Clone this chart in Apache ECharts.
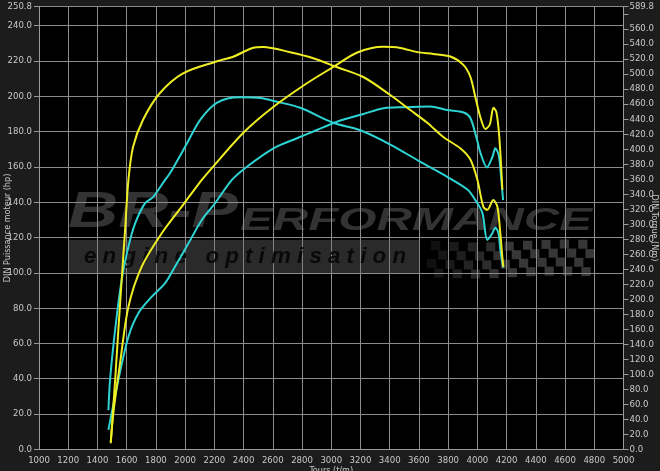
<!DOCTYPE html>
<html>
<head>
<meta charset="utf-8">
<style>
  html, body { margin: 0; padding: 0; background: #1c1c1c; }
  #chart { width: 660px; height: 471px; }
</style>
<script src="https://cdn.jsdelivr.net/npm/echarts@6.0.0/dist/echarts.min.js"></script>
</head>
<body>
<div id="chart"></div>
<script>
// ---- Data ----
// Tuned torque (yellow, right axis, Nm)
const tunedTorqueRpm = [1491,1521,1543,1566,1589,1612,1644,1712,1829,1986,2219,2329,2466,2534,2719,2877,3041,3219,3404,3541,3657,3767,3883,3952,4000,4041,4068,4109,4137,4157,4171,4178];
const tunedTorqueNm  = [8,92,159,226,292,359,403,439,475,501,517,523,535,536,529,521,509,496,472,452,435,416,401,386,359,323,319,332,323,288,256,243];
// Tuned power (yellow, left axis, hp)
const tunedPowerRpm = [1491,1509,1555,1612,1703,1840,1977,2114,2171,2397,2603,2836,3014,3178,3356,3473,3589,3699,3815,3904,3952,3986,4021,4055,4085,4110,4130,4150,4171];
const tunedPowerHp  = [4,20.6,48.9,80.8,103.5,122.4,137.5,152.6,158.2,179.2,193.9,207.5,216.6,224.8,228,227.4,225,224,222.5,217.8,211,199.6,188,181.5,184,193.5,191,177,147];
// Stock torque (cyan, right axis, Nm)
const stockTorqueRpm = [1475,1486,1521,1566,1612,1658,1726,1781,1863,1897,2014,2103,2219,2377,2514,2630,2788,3014,3199,3404,3610,3794,3932,3986,4034,4068,4100,4123,4144,4157,4176];
const stockTorqueNm  = [52,92,159,226,270,301,328,336,359,368,408,439,462,469,468,463,455,435,425,406,383,363,346,332,315,279,287,295,288,266,242];
// Stock power (cyan, left axis, hp)
const stockPowerRpm = [1475,1543,1612,1680,1772,1863,1931,2023,2114,2205,2320,2423,2605,2765,2902,3039,3221,3358,3495,3678,3792,3906,3952,3998,4021,4066,4103,4123,4146,4161,4176];
const stockPowerHp  = [11,39.3,63.8,77.1,86.5,94.1,103.5,116.7,129.9,139.4,152.6,160.1,170.5,176.2,180.9,185.6,190,193.2,193.8,194.2,192.2,190.8,187.7,175.2,167.9,159.7,165.6,170.5,166.7,155.4,141.2];

// Axis settings
const xMin = 1000, xMax = 5000, xStep = 200;
const hpMax = 250.8, hpStep = 20;
const nmMax = 589.8, nmStep = 20;

const xName = 'Tours (t/m)';
const leftName = 'DIN Puissance moteur (hp)';
const rightName = 'DIN Torque (Nm)';
const logoBig = 'BR-P';
const logoRest = 'ERFORMANCE';
const logoSub = 'e n g i n e   o p t i m i s a t i o n';

function pairs(xs, ys) { return xs.map((x, i) => [x, ys[i]]); }

const YELLOW = '#eeee22';
const CYAN = '#2ed3d3';
const LABEL = '#c8c8c8';
const GRIDC = '#8c8c8c';
const FONT = '"Liberation Sans Narrow", "DejaVu Sans Condensed", "Liberation Sans", Arial, sans-serif';
const LSIZE = 9.5;
const WMFONT = 'Liberation Sans';

// measure text for the watermark
const mctx = document.createElement('canvas').getContext('2d');
function tw(size, text) { mctx.font = 'italic bold ' + size + 'px "' + WMFONT + '"'; return mctx.measureText(text).width; }
const sBig = 170 / tw(50, logoBig);
const sRest = 352 / tw(32, logoRest);
const sSub = 322 / tw(22, logoSub);
const wmFill = 'rgba(140,140,140,0.36)';

function wmText(x, y, scaleX, text, size, fill, vAlign) {
  return { type: 'text', x: x, y: y, scaleX: scaleX, z: 1, silent: true,
    style: { text: text, font: 'italic bold ' + size + 'px "' + WMFONT + '"',
      fill: fill, verticalAlign: vAlign, textVerticalAlign: vAlign } };
}

const graphics = [
  wmText(68, 238, sBig, logoBig, 50, wmFill, 'bottom'),
  wmText(240, 237, sRest, logoRest, 32, wmFill, 'bottom'),
  { type: 'rect', shape: { x: 68, y: 240, width: 352, height: 33 }, z: 1, silent: true,
    style: { fill: 'rgba(110,110,110,0.38)' } },
  wmText(84, 257, sSub, logoSub, 22, 'rgba(5,5,5,0.9)', 'middle')
];
// checkered flag decoration
for (let r = 0; r < 4; r++) {
  for (let c = 0; c < 18; c++) {
    if ((r + c) % 2 === 0) {
      const a = 0.12 + 0.3 * Math.min(1, c / 8);
      graphics.push({ type: 'rect', z: 1, silent: true,
        shape: { x: 425 + c * 9.2 + (3 - r) * 2, y: 241 + r * 9 + Math.sin(c / 3) * 1.5, width: 9.2, height: 9 },
        style: { fill: 'rgba(130,130,130,' + a.toFixed(2) + ')' } });
    }
  }
}

const chart = echarts.init(document.getElementById('chart'), null, { renderer: 'canvas' });
chart.setOption({
  backgroundColor: '#1c1c1c',
  animation: false,
  grid: { left: 39, right: 36.5, top: 6.6, bottom: 21.7, containLabel: false, outerBoundsMode: 'none',
    show: true, backgroundColor: '#000', borderWidth: 0 },
  graphic: graphics,
  xAxis: {
    type: 'value', min: xMin, max: xMax, interval: xStep,
    name: xName, nameLocation: 'middle', nameGap: 17, nameMoveOverlap: false,
    nameTextStyle: { color: LABEL, fontSize: 9, fontFamily: FONT, verticalAlign: 'top' },
    axisLine: { show: true, lineStyle: { color: '#9a9a9a' } },
    axisTick: { show: false },
    axisLabel: { color: LABEL, fontSize: LSIZE, margin: 6, fontFamily: FONT,
      showMinLabel: true, showMaxLabel: true, hideOverlap: false,
      formatter: v => String(Math.round(v)) },
    splitLine: { show: true, lineStyle: { color: GRIDC, width: 1 } }
  },
  yAxis: [
    {
      type: 'value', min: 0, max: hpMax, interval: hpStep, position: 'left',
      name: leftName, nameLocation: 'middle', nameGap: 27, nameMoveOverlap: false,
      nameTextStyle: { color: LABEL, fontSize: 9, fontFamily: FONT },
      axisLine: { show: true, lineStyle: { color: '#9a9a9a' } },
      axisTick: { show: true, length: 5, lineStyle: { color: '#9a9a9a' } },
      axisLabel: { color: LABEL, fontSize: LSIZE, margin: 7, fontFamily: FONT,
        showMinLabel: true, showMaxLabel: true,
        formatter: v => v.toFixed(1) },
      splitLine: { show: true, lineStyle: { color: GRIDC, width: 1 } }
    },
    {
      type: 'value', min: 0, max: nmMax, interval: nmStep, position: 'right',
      name: rightName, nameLocation: 'middle', nameGap: 26, nameRotate: -90, nameMoveOverlap: false,
      nameTextStyle: { color: LABEL, fontSize: 9, fontFamily: FONT },
      axisLine: { show: true, lineStyle: { color: '#9a9a9a' } },
      axisTick: { show: true, length: 5, lineStyle: { color: '#9a9a9a' } },
      axisLabel: { color: LABEL, fontSize: LSIZE, margin: 6, fontFamily: FONT,
        showMinLabel: true, showMaxLabel: true,
        formatter: v => (Math.abs(v - 580) < 1e-6 ? '' : v.toFixed(1)) },
      splitLine: { show: false }
    }
  ],
  series: [
    { type: 'line', name: 'stockPower', yAxisIndex: 0, data: pairs(stockPowerRpm, stockPowerHp),
      showSymbol: false, smooth: 0.3, lineStyle: { color: CYAN, width: 2 } },
    { type: 'line', name: 'stockTorque', yAxisIndex: 1, data: pairs(stockTorqueRpm, stockTorqueNm),
      showSymbol: false, smooth: 0.3, lineStyle: { color: CYAN, width: 2 } },
    { type: 'line', name: 'tunedPower', yAxisIndex: 0, data: pairs(tunedPowerRpm, tunedPowerHp),
      showSymbol: false, smooth: 0.3, lineStyle: { color: YELLOW, width: 2 } },
    { type: 'line', name: 'tunedTorque', yAxisIndex: 1, data: pairs(tunedTorqueRpm, tunedTorqueNm),
      showSymbol: false, smooth: 0.3, lineStyle: { color: YELLOW, width: 2 } }
  ]
});
</script>
</body>
</html>
